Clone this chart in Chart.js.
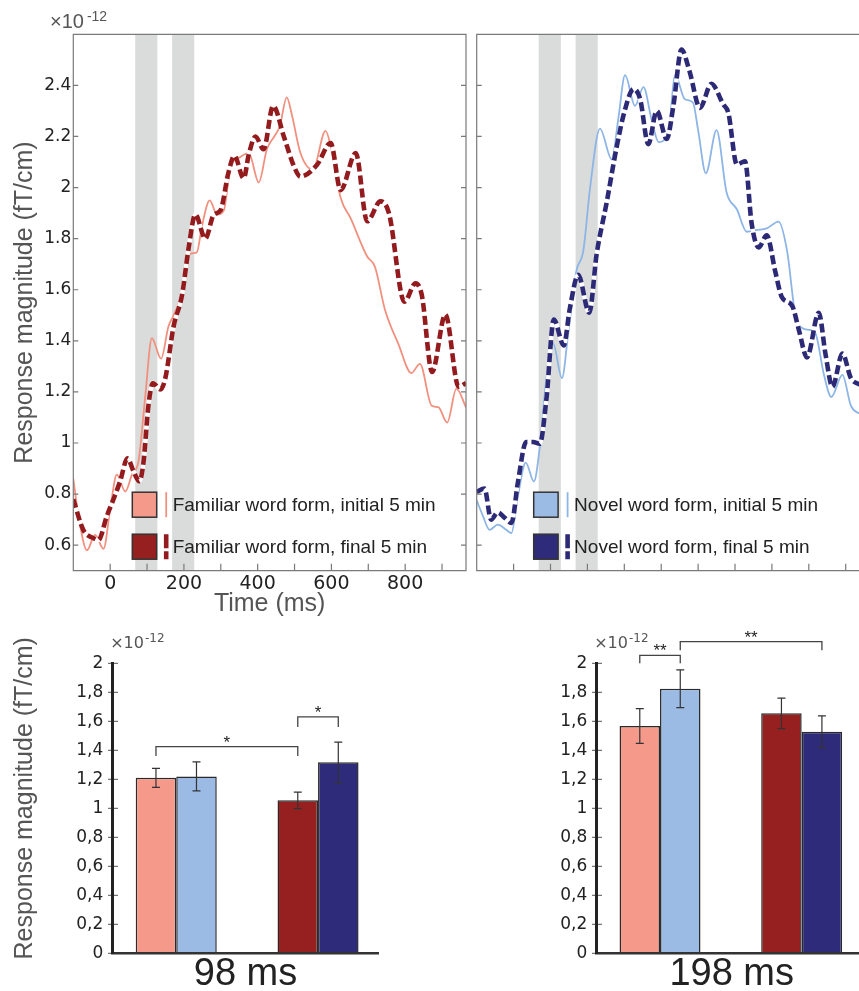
<!DOCTYPE html>
<html>
<head>
<meta charset="utf-8">
<script src="https://cdn.jsdelivr.net/npm/chart.js@4/dist/chart.umd.min.js"></script>
<style>
html,body{margin:0;padding:0;width:859px;height:991px;overflow:hidden;background:#fff;}
.box{position:absolute;}
</style>
</head>
<body>
<div class="box" style="left:0;top:0;width:470px;height:620px"><canvas id="c1"></canvas></div>
<div class="box" style="left:470px;top:0;width:410px;height:620px"><canvas id="c2"></canvas></div>
<div class="box" style="left:0;top:620px;width:430px;height:380px"><canvas id="c3"></canvas></div>
<div class="box" style="left:540px;top:620px;width:340px;height:380px"><canvas id="c4"></canvas></div>
<script>
// ================= DATA =================
// time axis (ms) and analysis windows (centre ± 30 ms)
const timeRange = [-100, 965];
const windowCentres = [98, 198];
const windowHalf = 30;

// Familiar word form, initial 5 min (x 1e-12 fT/cm)
const famInitT = [-100,-86,-63,-41,-18,0,18,41,59,77,95,113,138,158,172,199,217,235,249,270,290,308,326,353,376,403,425,445,460,479,492,516,550,584,600,625,652,697,718,745,781,817,840,872,890,914,939,965];
const famInitV = [0.86,0.715,0.58,0.64,0.586,0.74,0.876,0.81,0.876,0.93,1.18,1.41,1.33,1.456,1.5,1.6,1.74,1.746,1.85,1.95,1.894,1.91,2.076,2.12,2.135,2.02,2.15,2.2,2.24,2.353,2.29,2.135,2.07,2.222,2.15,1.96,1.88,1.73,1.69,1.523,1.39,1.274,1.31,1.146,1.14,1.08,1.213,1.14];

// Familiar word form, final 5 min
const famFinT = [-100,-73,-45,-32,-9,9,27,47,63,79,90,104,116,136,149,172,195,213,231,258,281,299,321,337,362,376,394,416,442,471,498,516,561,598,625,666,697,733,756,798,828,845,873,909,945,965];
const famFinV = [0.78,0.66,0.627,0.62,0.714,0.78,0.85,0.94,0.89,0.85,0.92,1.15,1.234,1.21,1.25,1.456,1.58,1.766,1.894,1.8,1.894,1.91,2.06,2.124,2.036,2.13,2.2,2.15,2.32,2.2,2.085,2.043,2.089,2.174,1.99,2.135,1.868,1.946,1.9,1.553,1.625,1.58,1.278,1.503,1.22,1.235];

// Novel word form, initial 5 min
const novInitT = [-100,-83,-65,-43,-20,-6,12,33,55,71,89,107,131,148,170,189,207,234,266,284,302,329,352,374,393,420,438,464,486,500,521,550,577,605,632,659,686,718,741,764,782,800,818,841,861,891,914,932,965];
const novInitV = [0.775,0.714,0.66,0.68,0.66,0.647,0.795,0.923,0.849,0.984,1.254,1.39,1.254,1.429,1.672,1.753,1.996,2.231,2.11,2.272,2.44,2.32,2.393,2.265,2.178,2.225,2.44,2.346,2.333,2.225,2.056,2.225,1.982,1.915,1.827,1.834,1.84,1.867,1.753,1.496,1.45,1.443,1.429,1.267,1.18,1.267,1.146,1.119,1.11];

// Novel word form, final 5 min
const novFinT = [-100,-79,-61,-43,-24,-6,12,34,53,71,89,109,136,152,175,205,225,252,279,302,325,343,365,388,415,433,455,477,505,536,568,582,605,627,645,664,686,709,727,755,773,795,827,845,864,891,914,932,965];
const novFinV = [0.809,0.822,0.70,0.728,0.707,0.687,0.849,1.004,1.004,0.997,1.173,1.483,1.382,1.523,1.658,1.51,1.739,1.94,2.157,2.306,2.386,2.346,2.17,2.30,2.19,2.32,2.54,2.454,2.312,2.406,2.326,2.292,2.09,2.103,1.86,1.766,1.813,1.672,1.571,1.537,1.443,1.335,1.51,1.35,1.22,1.35,1.254,1.233,1.22];

// Bar charts: groups = initial / final 5 min
const barGroups = ['initial 5 min', 'final 5 min'];
const fam98 = [1.21, 1.055],  famErr98 = [0.065, 0.057];
const nov98 = [1.22, 1.317],  novErr98 = [0.10, 0.14];
const fam198 = [1.568, 1.655], famErr198 = [0.12, 0.105];
const nov198 = [1.825, 1.528], novErr198 = [0.13, 0.11];

// significance brackets: [dataset, group] -> [dataset, group]
const sig98 = [
  {from:[0,0], to:[0,1], level:1.425, foot:1.36, mark:'*'},
  {from:[0,1], to:[1,1], level:1.63, foot:1.56, mark:'*'}
];
const sig198 = [
  {from:[0,0], to:[1,0], level:2.055, foot:2.0, mark:'**'},
  {from:[1,0], to:[1,1], level:2.15, foot:2.09, mark:'**'}
];

// ================= STYLE =================
const C = {
  famInitLine:'#F2907F', famInitBox:'#F59A8A',
  famFinLine:'#931B1E', famFinBox:'#962020',
  novInitLine:'#8DB5E6', novInitBox:'#9BBBE5',
  novFinLine:'#2C2A76', novFinBox:'#2F2B7B',
  band:'#D9DCDB', frame:'#7a7a7a', text:'#222', title:'#555'
};
Chart.defaults.font.family = "'Liberation Sans', Arial, sans-serif";
Chart.defaults.color = C.text;

// ================= PLUGINS =================
const bandsPlugin = {
  id:'bands',
  beforeDatasetsDraw(chart, args, o){
    if(!o || !o.windows) return;
    const {ctx, chartArea:ca, scales:{x}} = chart;
    ctx.save(); ctx.fillStyle = o.color;
    o.windows.forEach(([a,b])=>{
      const x1 = x.getPixelForValue(a), x2 = x.getPixelForValue(b);
      ctx.fillRect(x1, ca.top, x2-x1, ca.bottom-ca.top);
    });
    ctx.restore();
  }
};
const framePlugin = {
  id:'frame',
  afterDatasetsDraw(chart, args, o){
    if(!o || !o.on) return;
    const {ctx, chartArea:ca, scales} = chart;
    ctx.save(); ctx.strokeStyle = o.color; ctx.lineWidth = o.width;
    ctx.beginPath();
    if(o.box) ctx.rect(ca.left, ca.top, ca.right-ca.left, ca.bottom-ca.top);
    scales.y.ticks.forEach(t=>{
      const p = scales.y.getPixelForValue(t.value);
      if(o.box && p < ca.top+1) return;
      ctx.moveTo(ca.left - (o.yOut||0), p); ctx.lineTo(ca.left + o.yIn, p);
      if(o.box){ ctx.moveTo(ca.right, p); ctx.lineTo(ca.right - o.yIn, p); }
    });
    if(o.xIn) scales.x.ticks.forEach(t=>{
      const p = scales.x.getPixelForValue(t.value);
      ctx.moveTo(p, ca.bottom); ctx.lineTo(p, ca.bottom - o.xIn);
    });
    ctx.stroke(); ctx.restore();
  }
};
const boxLegend = {
  id:'boxLegend',
  afterDraw(chart, args, o){
    if(!o || !o.order) return;
    const {ctx, chartArea:ca} = chart;
    ctx.save();
    o.order.forEach((di,k)=>{
      const ds = chart.data.datasets[di];
      const bw = 24.4, bh = 25;
      const bx = ca.left + o.dx, cy = ca.bottom - o.rows[k];
      ctx.fillStyle = ds.backgroundColor; ctx.fillRect(bx, cy-bh/2, bw, bh);
      ctx.strokeStyle = '#333'; ctx.lineWidth = 1.5; ctx.setLineDash([]);
      ctx.strokeRect(bx, cy-bh/2, bw, bh);
      ctx.strokeStyle = ds.borderColor; ctx.lineWidth = ds.borderWidth;
      ctx.setLineDash(ds.borderDash ? [14,3] : []);
      ctx.beginPath(); ctx.moveTo(bx+bw+9.5, cy-bh/2); ctx.lineTo(bx+bw+9.5, cy+bh/2); ctx.stroke();
      ctx.setLineDash([]);
      ctx.fillStyle = o.color; ctx.font = o.font; ctx.textAlign = 'left'; ctx.textBaseline = 'middle';
      ctx.fillText(ds.label, bx+bw+16, cy+1);
    });
    ctx.restore();
  }
};
const sciPlugin = {
  id:'sci',
  afterDraw(chart, args, o){
    if(!o || !o.font) return;
    const {ctx, chartArea:ca} = chart;
    ctx.save(); ctx.fillStyle = o.color; ctx.textAlign = 'left'; ctx.textBaseline = 'alphabetic';
    const x = ca.left + o.dx, y = ca.top + o.dy;
    ctx.font = o.font; ctx.fillText('×10', x, y);
    const w = ctx.measureText('×10').width;
    ctx.font = o.supFont; ctx.fillText('-12', x + w + o.gap, y - o.rise);
    ctx.restore();
  }
};
const rotTitle = {
  id:'rotTitle',
  afterDraw(chart, args, o){
    if(!o || !o.text) return;
    const {ctx, chartArea:ca} = chart;
    ctx.save(); ctx.fillStyle = o.color; ctx.font = o.font;
    ctx.translate(ca.left + o.dx, (ca.top+ca.bottom)/2 + o.dy);
    ctx.rotate(-Math.PI/2); ctx.textAlign = 'center'; ctx.textBaseline = 'middle';
    ctx.fillText(o.text, 0, 0); ctx.restore();
  }
};
const errPlugin = {
  id:'errBars',
  afterDatasetsDraw(chart, args, o){
    if(!o || !o.on) return;
    const {ctx, scales:{y}} = chart;
    ctx.save(); ctx.strokeStyle = o.color; ctx.lineWidth = o.width;
    chart.data.datasets.forEach((ds,di)=>{
      chart.getDatasetMeta(di).data.forEach((el,j)=>{
        const v = ds.data[j].y, e = ds.errors[j];
        const hi = y.getPixelForValue(v+e), lo = y.getPixelForValue(v-e);
        ctx.beginPath();
        ctx.moveTo(el.x, hi); ctx.lineTo(el.x, lo);
        ctx.moveTo(el.x-o.cap, hi); ctx.lineTo(el.x+o.cap, hi);
        ctx.moveTo(el.x-o.cap, lo); ctx.lineTo(el.x+o.cap, lo);
        ctx.stroke();
      });
    });
    ctx.restore();
  }
};
const sigPlugin = {
  id:'sig',
  afterDraw(chart, args, o){
    if(!o || !o.items) return;
    const {ctx, scales:{y}} = chart;
    ctx.save(); ctx.strokeStyle = o.color; ctx.lineWidth = o.width;
    ctx.fillStyle = C.text; ctx.font = o.font; ctx.textAlign = 'center'; ctx.textBaseline = 'alphabetic';
    o.items.forEach(it=>{
      const xa = chart.getDatasetMeta(it.from[0]).data[it.from[1]].x;
      const xb = chart.getDatasetMeta(it.to[0]).data[it.to[1]].x;
      const yl = y.getPixelForValue(it.level), yf = y.getPixelForValue(it.foot);
      ctx.beginPath(); ctx.moveTo(xa, yf); ctx.lineTo(xa, yl); ctx.lineTo(xb, yl); ctx.lineTo(xb, yf); ctx.stroke();
      ctx.fillText(it.mark, (xa+xb)/2, yl + 1);
    });
    ctx.restore();
  }
};
Chart.register(bandsPlugin, framePlugin, boxLegend, sciPlugin, rotTitle, errPlugin, sigPlugin);

// ================= BUILDERS =================
const pts = (T,V) => T.map((t,i)=>({x:t, y:V[i]}));
const windows = windowCentres.map(c=>[c-windowHalf, c+windowHalf]);

function lineDs(label, T, V, line, box, dashed){
  return {
    label, data: pts(T,V), borderColor: line, backgroundColor: box,
    borderWidth: dashed ? 4.6 : 1.8, borderDash: dashed ? [9,4] : undefined,
    borderCapStyle:'butt', pointRadius:0, fill:false, cubicInterpolationMode:'monotone'
  };
}
// white underlay so that the gaps of the dashed trace read as white
function gapDs(T, V){
  return {label:'', data: pts(T,V), borderColor:'#ffffff', backgroundColor:'#ffffff',
          borderWidth:4.2, pointRadius:0, fill:false, cubicInterpolationMode:'monotone'};
}

function lineChart(id, dsFinal, dsGap, dsInit, withLabels, layout){
  return new Chart(document.getElementById(id), {
    type:'line',
    data:{datasets:[dsFinal, dsGap, dsInit]},
    options:{
      responsive:true, maintainAspectRatio:false, animation:false, events:[],
      layout:{padding:{left:0, top:34.3, right:layout.right, bottom:0}},
      plugins:{
        legend:{display:false}, tooltip:{enabled:false},
        bands:{windows, color:C.band},
        frame:{on:true, box:true, color:C.frame, width:1.2, yIn:5, xIn:7},
        boxLegend:{order:[2,0], dx:layout.legendDx, rows:[66,24], font:"19px 'Liberation Sans', Arial", color:C.text},
        sci: withLabels ? {dx:-23.3, dy:-6, font:"20px 'Liberation Sans', Arial", supFont:"14px 'Liberation Sans', Arial", gap:3, rise:7.6, color:C.title} : {}
      },
      scales:{
        x:{type:'linear', min:timeRange[0], max:timeRange[1],
           grid:{display:false, drawTicks:false, tickLength:0}, border:{display:false},
           ticks:{display:withLabels, stepSize:100, includeBounds:false, autoSkip:false, maxRotation:0, padding:2,
                  font:{family:'DejaVu Sans', size:19}, color:C.text,
                  callback:v => (v>=0 && v%200===0) ? String(v) : ''},
           title:{display:withLabels, text:'Time (ms)', font:{size:25}, color:C.title, padding:{top:0, bottom:1}},
           afterFit(s){ s.height = 49.3; }},
        y:{type:'linear', min:0.5, max:2.6,
           grid:{display:false, drawTicks:false, tickLength:0}, border:{display:false},
           ticks:{display:withLabels, stepSize:0.2, includeBounds:false, padding:2,
                  font:{family:'DejaVu Sans', size:17}, color:C.text,
                  callback:v => v>2.5 ? '' : String(+v.toFixed(1))},
           title:{display:withLabels, text:'Response magnitude (fT/cm)', font:{size:25}, color:C.title, padding:{top:9.7, bottom:0}},
           afterFit(s){ s.width = layout.yWidth; }}
      }
    }
  });
}

function barChart(id, fam, famErr, nov, novErr, sig, title, L){
  const mk = (label, vals, errs, colors) => ({
    label, data: vals.map((v,i)=>({x:i, y:v})), errors: errs,
    backgroundColor: colors, borderColor:'#2a2a2a', borderWidth:1.5,
    categoryPercentage:0.5715, barPercentage:1
  });
  return new Chart(document.getElementById(id), {
    type:'bar',
    data:{labels:barGroups, datasets:[
      mk('Familiar word form', fam, famErr, [C.famInitBox, C.famFinBox]),
      mk('Novel word form', nov, novErr, [C.novInitBox, C.novFinBox])
    ]},
    options:{
      responsive:true, maintainAspectRatio:false, animation:false, events:[],
      layout:{padding:{left:0, top:43.3, right:L.right, bottom:0}},
      plugins:{
        legend:{display:false}, tooltip:{enabled:false},
        frame:{on:true, box:false, color:'#777', width:1.2, yIn:5.3, yOut:4.7, xIn:0},
        errBars:{on:true, color:'#333', width:1.2, cap:4},
        sig:{items:sig, color:'#444', width:1.3, font:"17px 'Liberation Sans', Arial"},
        sci:{dx:-2.5, dy:-15, font:"16px 'DejaVu Sans'", supFont:"12px 'DejaVu Sans'", gap:1, rise:6.6, color:C.title},
        rotTitle: L.yTitle ? {text:'Response magnitude (fT/cm)', dx:-87.2, dy:-10, font:"25px 'Liberation Sans', Arial", color:C.title} : {}
      },
      scales:{
        x:{type:'linear', min:L.xmin, max:L.xmax, offset:false,
           grid:{display:false, drawTicks:false, tickLength:0}, border:{display:true, color:'#333', width:2.5, z:1},
           ticks:{display:false, stepSize:1, includeBounds:false},
           title:{display:true, text:title, font:{size:38}, color:'#222', padding:{top:0, bottom:2.6}},
           afterFit(s){ s.height = 46.7; }},
        y:{type:'linear', min:0, max:2,
           grid:{display:false, drawTicks:false, tickLength:0}, border:{display:true, color:'#222', width:3, z:1},
           ticks:{stepSize:0.2, padding:9.4, font:{family:'DejaVu Sans', size:17}, color:C.text,
                  callback:v => String(+v.toFixed(1)).replace('.', ',')},
           afterFit(s){ s.width = L.yWidth; }}
      }
    }
  });
}

// ================= CHARTS =================
lineChart('c1',
  lineDs('Familiar word form, final 5 min', famFinT, famFinV, C.famFinLine, C.famFinBox, true),
  gapDs(famFinT, famFinV),
  lineDs('Familiar word form, initial 5 min', famInitT, famInitV, C.famInitLine, C.famInitBox, false),
  true, {right:4, yWidth:73.3, legendDx:59});
lineChart('c2',
  lineDs('Novel word form, final 5 min', novFinT, novFinV, C.novFinLine, C.novFinBox, true),
  gapDs(novFinT, novFinV),
  lineDs('Novel word form, initial 5 min', novInitT, novInitV, C.novInitLine, C.novInitBox, false),
  false, {right:10.3, yWidth:6.7, legendDx:57});
barChart('c3', fam98, famErr98, nov98, novErr98, sig98, '98 ms',
  {right:51.7, yWidth:112.7, xmin:-0.448, xmax:1.425, yTitle:true});
barChart('c4', fam198, famErr198, nov198, novErr198, sig198, '198 ms',
  {right:13.3, yWidth:56.7, xmin:-0.447, xmax:1.459, yTitle:false});
</script>
</body>
</html>
